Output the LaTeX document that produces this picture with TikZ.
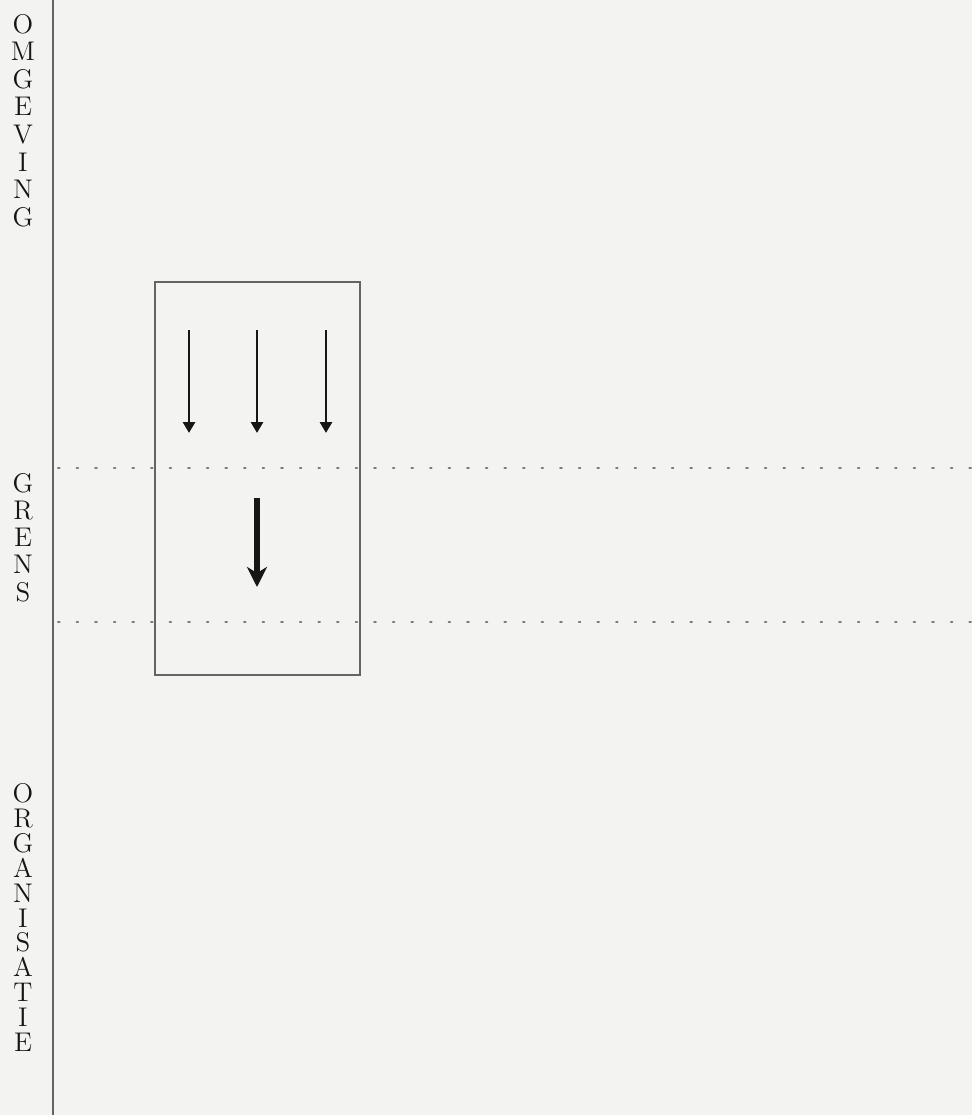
\documentclass[tikz,border=0pt]{standalone}
\usepackage{tikz}
\usetikzlibrary{positioning,calc,arrows.meta}

\definecolor{paper}{RGB}{243,243,241}
\definecolor{ink}{RGB}{22,22,22}
\definecolor{rulegrey}{RGB}{100,100,100}

\begin{document}
\begin{tikzpicture}[x=0.5pt, y=-0.5pt,
  letters/.style={align=center, inner sep=0pt, text=ink,
                  font=\fontsize{13.5}{#1}\selectfont},
  zone/.style={draw=rulegrey, line width=0.85pt},
  bound/.style={draw=rulegrey!85, line width=1pt,
                dash pattern=on 0.8pt off 8.5pt, line cap=round},
  flow/.style={draw=ink, line width=1.4pt, -{Triangle[length=5.5pt,width=6pt]}},
  bigflow/.style={draw=ink, line width=2.6pt,
                  -{Stealth[length=10pt,width=10pt,inset=3pt]}}]
\fill[paper] (0,0) rectangle (972,1115);
\useasboundingbox (0,0) rectangle (972,1115);

% zone names down the left margin
\node[letters=13.8] (omgeving) at (23,120.5) {O\\M\\G\\E\\V\\I\\N\\G};
\node[letters=13.6] (grens) at (23,537.5) {G\\R\\E\\N\\S};
\node[letters=12.45] (organisatie) at (23,917.5) {O\\R\\G\\A\\N\\I\\S\\A\\T\\I\\E};

% margin rule
\coordinate (rtop) at (53,0);
\coordinate (rbot) at (53,1115);
\draw[zone] (rtop) -- (rbot);

% the boundary band
\coordinate (b1l) at (58,468);  \coordinate (b1r) at (972,468);
\coordinate (b2l) at (58,622);  \coordinate (b2r) at (972,622);
\draw[bound] (b1l) -- (b1r);
\draw[bound] (b2l) -- (b2r);

\node[zone, minimum width=102.5pt, minimum height=196.5pt, inner sep=0pt]
  (system) at (257.5,478.5) {};

% incoming flows
\foreach \x/\n in {189/1,257/2,326/3}{
  \coordinate (in\n s) at (\x,330);
  \coordinate (in\n e) at (\x,433);
  \draw[flow] (in\n s) -- (in\n e);
}

% one flow through the boundary
\coordinate (pass s) at (257,498);
\coordinate (pass e) at (257,587);
\draw[bigflow] (pass s) -- (pass e);
\end{tikzpicture}
\end{document}
